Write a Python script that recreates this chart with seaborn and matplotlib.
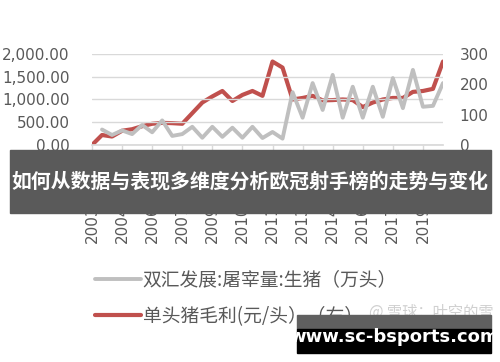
import pandas as pd
import numpy as np
import matplotlib
matplotlib.use("Agg")
import matplotlib.pyplot as plt
import seaborn as sns
from matplotlib.patches import Rectangle

# Data (36 periods)
tick_labels = ["2003-06-01", "2004-12-01", "2006-06-01", "2007-06-01",
               "2009-06-01", "2010-06-01", "2011-12-01", "2013-06-01",
               "2014-12-01", "2016-06-01", "2017-06-01", "2019-06-01"]

slaughter = [np.nan, 340, 220, 320, 240, 440, 280, 540, 200, 240,
             400, 160, 400, 180, 380, 160, 400, 154, 286, 140,
             1160, 600, 1360, 770, 1540, 600, 1280, 600, 1280, 620,
             1470, 810, 1650, 840, 860, 1360]

margin = [0, 33, 28, 47, 52, 62, 70, 73, 72, 70,
          105, 140, 160, 178, 145, 165, 178, 162, 275, 255,
          150, 155, 162, 147, 148, 150, 148, 125, 140, 150,
          155, 155, 175, 178, 185, 275]

label_gray = "双汇发展:屠宰量:生猪（万头）"
label_red = "单头猪毛利(元/头）（右）"

df = pd.DataFrame({"idx": range(len(margin)),
                   "slaughter": slaughter,
                   "margin": margin})

sns.set_theme(style="white")
plt.rcParams["font.family"] = ["DejaVu Sans", "Noto Sans CJK SC"]

fig = plt.figure(figsize=(5.0, 3.62), dpi=100)
ax = fig.add_axes([0.184, 0.5994, 0.702, 0.2516])
ax2 = ax.twinx()

txt = "#595959"
grid = "#d9d9d9"

sns.lineplot(data=df, x="idx", y="slaughter", ax=ax, color="#bfbfbf",
             linewidth=2.8, label=label_gray, legend=False)
sns.lineplot(data=df, x="idx", y="margin", ax=ax2, color="#c0504d",
             linewidth=3.0, label=label_red, legend=False)

ax.set_xlim(0, len(margin) - 1)
ax.set_ylim(0, 2000)
ax2.set_ylim(0, 300)
ax.set_yticks([0, 500, 1000, 1500, 2000])
ax.set_yticklabels([f"{v:,.2f}" for v in [0, 500, 1000, 1500, 2000]])
ax2.set_yticks([0, 100, 200, 300])
ax.set_xticks(range(0, len(margin), 3))
ax.set_xticklabels(tick_labels, rotation=90)

ax.grid(axis="y", color=grid, linewidth=1)
ax.set_axisbelow(True)
for a in (ax, ax2):
    for s in ("top", "left", "right"):
        a.spines[s].set_visible(False)
    a.spines["bottom"].set_color(grid)
    a.set_xlabel("")
    a.set_ylabel("")
ax2.spines["bottom"].set_visible(False)

ax.tick_params(axis="y", length=0, pad=16, labelsize=11, labelcolor=txt)
ax2.tick_params(axis="y", length=0, pad=12, labelsize=11, labelcolor=txt)
ax.tick_params(axis="x", length=5, width=1, color=grid, direction="out",
               labelsize=11, labelcolor=txt, pad=2, bottom=True)
ax.set_zorder(ax2.get_zorder() + 1)
ax.patch.set_visible(False)
ax2.grid(False)

# legend below the plot
h1, l1 = ax.get_legend_handles_labels()
h2, l2 = ax2.get_legend_handles_labels()
leg = fig.legend(h1 + h2, l1 + l2, loc="upper left",
                 bbox_to_anchor=(0.19, 0.255), frameon=False,
                 fontsize=13.5, handlelength=2.45, handletextpad=0.1,
                 labelspacing=0.8, borderpad=0, borderaxespad=0)
for t in leg.get_texts():
    t.set_color(txt)
    t.set_family(["Noto Sans CJK SC", "DejaVu Sans"])

# watermark
fig.text(0.738, 0.138, "@ 雪球：叶空的雪", color="#d0d0d0", fontsize=11,
         va="center", ha="left", family=["Noto Sans CJK SC", "DejaVu Sans"])

# title banner over the axis labels
fig.patches.append(Rectangle((0.02, 0.4116), 0.962, 0.174,
                             transform=fig.transFigure, color="#5a5a5a",
                             zorder=10))
fig.text(0.5, 0.4986, "如何从数据与表现多维度分析欧冠射手榜的走势与变化",
         color="white", fontsize=14.3, fontweight="bold", ha="center",
         va="center", zorder=11, family=["Noto Sans CJK SC", "DejaVu Sans"])

# site box bottom right
fig.patches.append(Rectangle((0.594, 0.0912), 0.388, 0.039,
                             transform=fig.transFigure, color="#606060",
                             zorder=10))
fig.patches.append(Rectangle((0.594, 0.0249), 0.388, 0.0663,
                             transform=fig.transFigure, color="black",
                             zorder=10))
fig.text(0.788, 0.069, "www.sc-bsports.com", color="white", fontsize=13,
         fontweight="bold", ha="center", va="center", zorder=11)

fig.savefig("out.png", dpi=100)
